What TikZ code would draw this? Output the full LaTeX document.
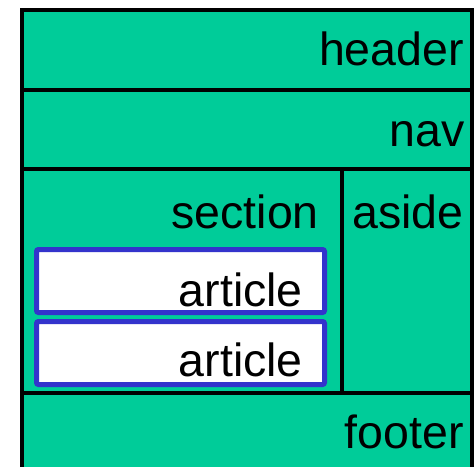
\documentclass[tikz,border=0pt]{standalone}
\usepackage{fontspec}
\setmainfont{Liberation Sans}
\definecolor{boxgreen}{RGB}{0,204,153}
\definecolor{artblue}{RGB}{51,51,204}
\begin{document}
\begin{tikzpicture}[x=1pt,y=-1pt,
  box/.style={draw=black, line width=4pt, fill=boxgreen, rectangle, inner sep=0pt, outer sep=0pt, anchor=north west},
  artbox/.style={draw=artblue, line width=5pt, fill=white, rectangle, rounded corners=2pt, inner sep=0pt, outer sep=0pt, anchor=north west, minimum width=288pt, minimum height=63pt},
  lbl/.style={inner sep=0pt, anchor=base east, font=\fontsize{46.5}{50}\selectfont},
  lblw/.style={inner sep=0pt, anchor=base west, font=\fontsize{46.5}{50}\selectfont}]
\useasboundingbox (0,0) rectangle (474,466);
\clip (0,0) rectangle (474,466);
\fill[white] (0,0) rectangle (474,466);
\node[box, minimum width=450pt, minimum height=80pt] (header) at (22,9.5) {};
\node[box, minimum width=450pt, minimum height=79pt] (nav) at (22,89.5) {};
\node[box, minimum width=450pt, minimum height=130pt] (footer) at (22,393) {};
\node[box, minimum width=320pt, minimum height=224.5pt] (section) at (22,168.5) {};
\node[box, minimum width=130pt, minimum height=224.5pt] (aside) at (342,168.5) {};
\node[artbox] (article1) at (36.5,249.5) {};
\node[artbox] (article2) at (36.5,321.5) {};
\node[lbl] (headert) at (464,65) {header};
\node[lbl] (navt) at (465,146) {nav};
\node[lbl] (sectiont) at (319,228) {section};
\node[lblw] (asidet) at (352,228) {aside};
\node[lbl] (article1t) at (303,306) {article};
\node[lbl] (article2t) at (303,376) {article};
\node[lbl] (footert) at (464,448) {footer};
\end{tikzpicture}
\end{document}
